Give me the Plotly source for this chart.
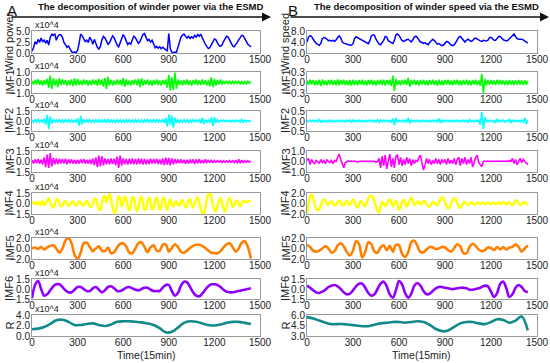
import numpy as np
import plotly.graph_objects as go

# ---------------- data (values in plotted units; left panel in x10^4) ----------------
L_power = [0.4,1.2,2.6,2.0,3.1,2.4,3.4,2.5,3.0,2.2,
           2.9,1.8,3.6,4.3,4.0,4.4,2.9,3.8,4.2,4.1,
           3.6,2.4,1.9,1.3,1.6,0.8,0.3,0.1,0.2,0.1,
           0.6,2.2,4.3,3.9,3.1,2.6,2.9,2.4,3.6,3.0,
           2.0,3.1,2.2,1.3,0.9,1.5,3.0,3.8,3.4,2.6,
           2.0,2.3,3.1,3.9,3.5,2.5,1.8,1.4,2.4,3.7,
           4.2,3.6,2.6,1.9,2.3,2.0,3.0,3.8,3.5,2.7,
           2.2,2.6,3.3,4.2,4.4,3.6,2.8,3.1,2.5,2.9,
           1.8,1.2,1.5,1.1,1.4,1.0,1.3,0.9,0.7,0.5,
           4.4,1.0,0.2,0.1,0.2,0.1,1.2,2.8,3.6,4.1,
           4.3,3.8,3.4,3.8,3.3,3.7,3.4,4.0,3.6,4.2,
           3.8,4.3,3.4,2.6,2.0,1.5,1.0,1.2,1.8,2.6,
           3.2,3.0,2.4,1.7,1.5,1.8,2.6,3.3,3.8,3.6,
           2.8,2.1,1.6,1.4,1.8,2.4,3.0,3.6,4.0,3.9,
           3.2,2.4,2.0,1.7,1.4]
L_imf1 = [0.15,-0.2,0.25,-0.18,0.3,-0.22,0.2,-0.3,0.25,-0.2,
          0.35,-0.5,0.65,-0.6,0.4,-0.3,0.3,-0.45,0.42,-0.25,
          0.3,-0.2,0.25,-0.3,0.2,-0.25,0.3,-0.35,0.4,-0.3,
          0.35,-0.25,0.2,-0.25,0.3,-0.2,0.25,-0.3,0.2,-0.25,
          0.3,-0.2,0.25,-0.3,0.35,-0.25,0.3,-0.4,0.45,-0.6,
          0.55,-0.3,0.25,-0.3,0.2,-0.25,0.3,-0.2,0.25,-0.3,
          0.45,-0.4,0.3,-0.25,0.2,-0.3,0.25,-0.2,0.3,-0.25,
          0.35,-0.45,0.4,-0.3,0.25,-0.2,0.3,-0.25,0.2,-0.3,
          0.25,-0.2,0.3,-0.25,0.2,-0.3,0.25,-0.2,0.3,-0.5,
          0.7,-0.75,0.5,-0.7,0.95,-0.6,0.3,-0.25,0.2,-0.3,
          0.25,-0.2,0.3,-0.25,0.2,-0.3,0.25,-0.2,0.3,-0.25,
          0.2,-0.25,0.3,-0.2,0.25,-0.3,0.2,-0.35,0.5,-0.45,
          0.35,-0.3,0.25,-0.2,0.3,-0.2,0.15,-0.12,0.15,-0.1,
          0.12,-0.15,0.1,-0.12,0.15,-0.1,0.12,-0.14,0.1,-0.12,
          0.1,-0.12,0.1,-0.08,0.1]
L_imf2 = [0.15,-0.18,0.2,-0.15,0.22,-0.18,0.2,-0.25,0.35,-0.5,
          0.9,-1.2,0.7,-0.4,0.25,-0.2,0.18,-0.15,0.2,-0.18,
          0.15,-0.2,0.18,-0.15,0.2,-0.18,0.15,-0.2,0.18,-0.25,
          0.4,-0.7,0.75,-0.5,0.25,-0.2,0.18,-0.15,0.2,-0.18,
          0.15,-0.2,0.18,-0.15,0.2,-0.18,0.15,-0.2,0.25,-0.3,
          0.3,-0.25,0.2,-0.18,0.15,-0.2,0.18,-0.15,0.2,-0.18,
          0.15,-0.2,0.18,-0.15,0.2,-0.18,0.15,-0.2,0.18,-0.15,
          0.2,-0.18,0.15,-0.2,0.18,-0.15,0.2,-0.18,0.15,-0.2,
          0.18,-0.15,0.2,-0.18,0.15,-0.2,0.25,-0.3,0.45,-0.8,
          0.95,-0.6,0.8,-1.0,0.5,-0.3,0.2,-0.18,0.15,-0.2,
          0.18,-0.15,0.2,-0.18,0.15,-0.2,0.18,-0.15,0.2,-0.18,
          0.25,-0.35,0.5,-0.45,0.2,-0.18,0.15,-0.3,0.55,-0.75,
          0.6,-0.3,0.18,-0.15,0.12,-0.1,0.12,-0.1,0.12,-0.1,
          0.1,-0.12,0.1,-0.12,0.15,-0.1,0.12,-0.25,0.3,-0.2,
          0.12,-0.1,0.08,-0.1,0.08]
L_imf3 = [0.2,-0.3,0.3,-0.25,0.35,-0.3,0.25,-0.4,0.6,-0.8,
          1.0,-0.9,1.2,-0.7,0.5,-0.4,0.45,-0.35,0.4,-0.3,
          0.35,-0.3,0.4,-0.35,0.3,-0.25,0.3,-0.3,0.25,-0.3,
          0.25,-0.3,0.3,-0.25,0.35,-0.3,0.25,-0.3,0.3,-0.35,
          0.4,-0.5,0.6,-0.8,0.85,-0.7,0.75,-0.55,0.45,-0.4,
          0.35,-0.4,0.45,-0.35,0.4,-0.5,0.7,-0.9,0.85,-0.6,
          0.45,-0.4,0.35,-0.45,0.4,-0.35,0.45,-0.4,0.35,-0.4,
          0.45,-0.35,0.4,-0.45,0.35,-0.4,0.3,-0.35,0.4,-0.3,
          0.35,-0.3,0.4,-0.35,0.3,-0.4,0.45,-0.5,0.55,-0.45,
          0.5,-0.55,0.45,-0.4,0.35,-0.3,0.3,-0.25,0.3,-0.25,
          0.25,-0.3,0.25,-0.3,0.3,-0.25,0.3,-0.35,0.3,-0.25,
          0.3,-0.25,0.2,-0.25,0.3,-0.2,0.25,-0.2,0.25,-0.2,
          0.15,-0.12,0.15,-0.1,0.12,-0.15,0.1,-0.12,0.1,-0.12,
          0.15,-0.1,0.12,-0.15,0.2,-0.25,0.3,-0.25,0.2,-0.15,
          0.12,-0.1,0.12,-0.1,0.08]
L_imf4 = [0.0,0.15,-0.1,0.2,-0.15,0.25,-0.2,0.3,-0.25,0.1,
          0.4,0.75,0.3,-0.4,-0.6,-0.1,0.5,0.6,0.0,-0.4,
          -0.3,0.2,0.4,0.0,-0.3,-0.2,0.2,0.3,-0.1,-0.3,
          0.0,0.3,0.2,-0.2,-0.3,0.1,0.4,0.1,-0.4,-0.5,
          0.0,0.6,0.7,-0.1,-0.8,-0.9,0.0,0.9,1.1,0.1,
          0.8,1.4,0.6,-0.6,-1.3,-1.2,0.0,1.0,0.8,-0.4,
          0.0,1.0,0.7,-0.5,-1.0,-0.2,0.9,0.8,-0.3,-1.1,
          -0.6,0.6,1.0,0.2,-0.9,-0.8,0.4,0.9,0.1,-0.8,
          -0.7,0.5,0.9,0.0,-0.9,-0.5,0.7,0.8,-0.3,-0.9,
          0.2,0.6,-0.2,-0.4,0.2,0.3,-0.2,-0.3,0.2,0.5,
          0.0,-0.6,-0.3,0.5,0.6,-0.2,-0.6,0.0,0.6,0.9,
          0.2,-0.8,-1.3,-1.5,-0.6,0.6,1.3,1.5,0.9,-0.2,
          -0.9,-1.1,-0.4,0.4,0.8,0.2,-0.7,-1.2,-0.5,0.5,
          0.8,0.2,-0.5,-0.3,0.3,0.4,-0.1,-0.4,0.0,0.4,
          0.3,0.2,0.3,0.35,0.3]
L_imf5 = [0.0,0.2,-0.1,0.3,-0.2,0.2,0.5,0.6,0.0,-0.8,
          0.0,1.5,2.0,1.0,-1.2,-2.0,-0.8,1.0,1.1,0.3,
          -0.5,0.0,0.4,-0.4,-0.5,0.2,-0.9,-0.7,0.2,0.9,
          1.0,0.4,-0.8,-0.9,0.0,1.0,1.2,0.3,-0.7,0.2,
          0.6,-0.4,-0.4,0.7,0.8,-0.6,0.1,0.8,0.3,-0.6,
          -0.8,-0.4,0.1,0.5,0.7,0.7,0.5,0.1,-0.4,-0.8,
          -0.9,-0.9,-0.5,0.2,0.8,1.0,0.3,-0.6,0.0,1.1,
          1.4,0.3,-1.9]
L_imf6 = [-1.4,0.6,1.2,0.0,-1.0,-0.8,-0.2,0.4,0.7,0.7,
          0.3,-0.2,-0.5,-0.5,-0.1,0.3,0.3,0.0,-0.3,-0.3,
          0.1,0.3,-0.1,-0.5,-0.2,0.3,0.4,0.1,-0.3,-0.3,
          -0.1,0.2,0.3,0.1,-0.1,-0.2,0.0,0.2,0.2,-0.1,
          -0.3,-0.3,-0.3,0.2,0.6,0.6,-0.3,-1.0,-0.6,0.5,
          1.1,1.0,0.3,-0.5,-1.0,-1.1,-0.7,-0.1,0.4,0.7,
          0.7,0.6,0.3,-0.1,-0.4,-0.5,-0.5,-0.4,-0.3,-0.2,
          -0.1,0.0,0.1]
L_res = [1.3,1.4,1.7,2.3,3.0,3.1,2.7,2.1,2.1,2.3,2.4,2.1,1.9,2.2,2.7,2.8,2.8,2.7,2.6,
         2.4,2.1,1.5,0.7,0.8,1.6,2.5,2.8,2.7,2.4,2.1,2.0,2.2,2.5,2.7,2.7,2.5,2.3]

R_speed = [4.0,5.8,6.3,6.0,5.0,4.0,3.5,3.1,2.8,3.5,
           5.2,5.6,5.5,5.0,4.5,4.6,4.4,4.6,4.2,4.8,
           5.8,6.3,5.5,4.0,3.6,3.3,3.2,3.0,2.9,2.8,
           3.4,5.2,5.9,5.6,5.0,4.8,4.4,4.3,4.1,3.6,
           3.4,4.5,6.3,6.6,6.4,5.0,4.0,3.2,3.0,3.6,
           4.6,6.0,5.8,4.5,4.0,3.8,3.5,4.6,6.6,6.9,
           6.4,5.5,4.5,4.2,4.6,4.8,5.0,4.4,4.0,4.8,
           5.8,6.1,5.6,4.7,4.0,3.8,3.5,3.7,3.3,3.0,
           3.8,4.6,5.0,4.5,3.6,3.2,3.4,3.0,2.7,2.9,
           3.8,4.2,4.0,3.4,2.9,2.7,3.0,3.8,5.0,5.8,
           6.0,5.2,4.4,4.0,4.6,5.0,4.6,4.2,4.5,5.2,
           5.4,5.0,4.6,4.4,4.2,4.6,4.5,4.4,4.7,5.6,
           5.7,5.2,4.6,4.6,5.3,6.0,6.0,5.4,4.8,4.6,
           4.4,4.6,5.2,6.0,6.6,6.9,6.0,5.2,5.0,5.1,
           5.0,4.8,4.4,4.0,3.6]
R_imf1 = [0.06,-0.07,0.08,-0.06,0.07,-0.08,0.06,-0.07,0.08,-0.1,
          0.09,-0.07,0.06,-0.08,0.07,-0.06,0.08,-0.07,0.06,-0.08,
          0.09,-0.08,0.07,-0.06,0.08,-0.07,0.06,-0.08,0.07,-0.09,
          0.08,-0.07,0.06,-0.08,0.07,-0.06,0.08,-0.07,0.06,-0.08,
          0.07,-0.06,0.08,-0.07,0.06,-0.08,0.07,-0.06,0.08,-0.07,
          0.08,-0.09,0.07,-0.06,0.08,-0.1,0.2,-0.25,0.1,-0.07,
          0.06,-0.08,0.07,-0.06,0.08,-0.07,0.13,-0.12,0.07,-0.06,
          0.08,-0.07,0.06,-0.08,0.07,-0.06,0.08,-0.07,0.06,-0.08,
          0.07,-0.06,0.08,-0.07,0.06,-0.09,0.08,-0.07,0.06,-0.08,
          0.07,-0.06,0.08,-0.07,0.06,-0.08,0.07,-0.06,0.08,-0.07,
          0.06,-0.08,0.07,-0.06,0.08,-0.07,0.06,-0.08,0.07,-0.06,
          0.08,-0.07,0.06,-0.1,0.25,-0.3,0.1,-0.08,0.07,-0.06,
          0.07,-0.06,0.06,-0.07,0.08,-0.06,0.07,-0.06,0.06,-0.07,
          0.06,-0.07,0.07,-0.06,0.06,-0.07,0.06,-0.06,0.07,-0.06,
          0.06,-0.07,0.06,-0.06,0.05]
R_imf2 = [0.03,-0.04,0.04,-0.03,0.04,-0.04,0.03,-0.05,0.1,-0.08,
          0.04,-0.04,0.03,-0.04,0.04,-0.03,0.04,-0.04,0.03,-0.04,
          0.04,-0.03,0.04,-0.04,0.03,-0.04,0.04,-0.03,0.06,-0.08,
          0.05,-0.04,0.03,-0.04,0.04,-0.03,0.04,-0.04,0.03,-0.04,
          0.04,-0.03,0.04,-0.04,0.03,-0.04,0.06,-0.07,0.05,-0.04,
          0.04,-0.03,0.04,-0.04,0.03,-0.05,0.12,-0.2,0.15,-0.06,
          0.04,-0.03,0.04,-0.04,0.03,-0.05,0.15,-0.12,0.05,-0.04,
          0.04,-0.03,0.04,-0.04,0.03,-0.04,0.04,-0.03,0.04,-0.04,
          0.03,-0.04,0.04,-0.03,0.04,-0.05,0.12,-0.1,0.04,-0.04,
          0.04,-0.03,0.04,-0.04,0.03,-0.04,0.04,-0.03,0.04,-0.04,
          0.03,-0.04,0.04,-0.03,0.04,-0.08,0.07,-0.04,0.03,-0.04,
          0.04,-0.03,0.05,-0.2,0.45,-0.4,0.2,-0.06,0.04,-0.03,
          0.04,-0.04,0.03,-0.1,0.1,-0.04,0.04,-0.03,0.04,-0.04,
          0.03,-0.04,0.1,-0.1,0.04,-0.03,0.04,-0.04,0.03,-0.04,
          0.04,-0.05,0.15,-0.15,0.05]
R_imf3 = [0.1,0.3,-0.3,0.2,-0.1,-0.2,0.1,0.0,-0.2,0.2,
          -0.1,0.1,-0.2,0.15,0.0,-0.1,0.1,-0.2,0.1,0.0,
          0.4,0.7,0.2,-0.3,-0.6,-0.1,0.0,0.05,0.0,0.05,
          0.0,0.05,0.0,-0.05,0.0,0.05,0.0,0.05,0.0,0.05,
          0.0,0.05,0.0,0.05,0.0,-0.05,0.0,0.3,-0.6,0.5,
          -0.4,0.6,-0.7,0.2,0.7,-0.5,0.3,-0.6,0.5,0.6,
          -0.3,0.4,-0.4,0.2,-0.3,0.4,-0.2,0.3,-0.4,0.2,
          -0.2,0.1,0.0,0.4,0.6,-0.2,-0.8,-0.3,0.3,-0.2,
          0.2,-0.3,0.1,-0.2,0.3,-0.2,0.2,-0.3,0.2,-0.1,
          0.2,-0.3,0.3,-0.2,0.1,-0.2,0.3,-0.3,0.2,0.4,
          -0.4,0.3,-0.2,0.4,-0.3,0.2,-0.2,0.4,-0.5,-0.1,
          0.4,0.6,-0.1,-0.3,-0.5,0.0,0.05,0.0,0.05,0.0,
          0.05,0.0,0.05,0.0,0.05,0.0,0.05,0.0,0.05,0.0,
          0.05,0.0,0.1,0.0,0.3,-0.2,0.2,-0.3,0.1,0.3,
          -0.1,0.2,0.0,-0.2,-0.3]
R_imf4 = [-2.0,0.0,1.4,1.7,1.0,-0.2,-1.0,-1.3,-1.1,-0.4,
          0.4,0.8,0.5,-0.1,-0.2,0.2,0.4,0.0,-0.4,-0.2,
          0.3,0.6,0.2,-0.4,-0.3,0.3,0.5,0.0,-0.3,0.2,
          0.8,0.4,-0.5,-0.8,-0.2,0.5,0.3,-0.3,-0.5,0.2,
          1.0,1.5,1.4,1.2,0.4,-0.6,-1.4,-1.7,-0.6,0.3,
          0.1,-0.5,-0.2,0.5,0.8,0.3,-0.5,0.0,0.6,-0.2,
          -1.2,-0.8,0.3,0.7,0.1,-0.6,-0.2,0.7,1.1,0.5,
          -0.3,-0.1,0.4,0.3,-0.2,0.0,0.5,0.4,-0.2,-0.5,
          -0.6,-0.2,0.3,0.2,-0.2,-0.3,0.2,0.8,1.2,1.0,
          0.2,-0.6,-1.0,-0.7,0.0,0.6,1.0,0.8,0.1,-0.6,
          -0.8,-0.4,0.1,0.3,0.0,-0.3,-0.1,0.2,0.1,-0.2,
          -0.1,0.2,0.1,-0.1,0.1,0.2,-0.1,0.0,0.2,0.0,
          -0.1,0.1,0.2,-0.1,0.0,0.2,-0.1,0.1,0.3,0.0,
          -0.2,0.1,0.2,-0.1,-0.3,0.1,0.5,0.6,0.1,-0.3,
          -0.2,0.2,0.3,-0.1,-0.2]
R_imf5 = [0.7,0.3,-0.4,-0.6,-0.4,0.0,0.4,0.0,-0.8,-0.5,
          0.6,1.0,0.4,-0.7,-1.3,-0.4,1.4,0.8,-1.7,-0.6,
          1.2,0.8,-0.6,-0.8,0.2,0.6,-0.3,0.5,-0.6,0.7,
          0.6,-1.0,-1.6,-0.7,1.2,1.5,0.5,-0.7,-0.7,-0.2,
          0.3,0.2,-0.1,0.0,0.3,0.2,-0.3,-0.6,0.1,0.8,
          0.4,-0.9,-0.9,0.3,0.9,0.5,-0.2,-0.5,-0.3,0.2,
          0.1,-0.3,0.3,-0.2,0.3,-0.2,0.2,0.3,0.8,0.3,
          -0.6,0.0,0.6]
R_imf6 = [0.5,0.2,-0.2,-0.5,-0.6,-0.4,-0.1,0.3,0.5,0.6,
          0.4,0.0,-0.5,-0.8,-0.7,-0.2,0.4,0.8,0.8,0.2,
          -0.6,-1.0,-0.8,0.0,0.8,1.1,0.4,-0.8,-1.3,-0.2,
          1.2,0.7,-0.6,-1.3,-0.7,0.5,0.9,0.5,-0.3,-0.8,
          -0.7,-0.3,0.1,0.3,0.3,0.2,0.1,0.0,0.0,0.1,
          0.2,0.2,0.1,-0.1,-0.1,0.0,0.1,0.3,0.5,0.4,
          -0.4,-1.2,-0.6,0.8,1.1,0.1,-1.2,-0.8,0.2,0.6,
          0.3,-0.3,-0.5]
R_res = [5.7,5.5,5.2,4.9,4.7,4.7,4.7,4.6,4.5,4.4,4.4,4.6,4.8,4.9,5.0,5.0,4.9,5.0,5.1,
         5.0,4.6,4.0,3.7,3.8,4.3,4.8,5.0,5.0,4.8,4.7,5.0,5.4,5.3,4.9,5.2,5.8,3.8]

row_names_L = ["Wind power", "IMF1", "IMF2", "IMF3", "IMF4", "IMF5", "IMF6", "R"]
row_names_R = ["Wind speed", "IMF1", "IMF2", "IMF3", "IMF4", "IMF5", "IMF6", "R"]
xticks = [0, 300, 600, 900, 1200, 1500]
yticks_L = [[0, 2.5, 5], [-1, 0, 1], [-1.5, 0, 1.5], [-1.5, 0, 1.5], [-1.5, 0, 1.5], [-2, 0, 2], [-1.5, 0, 1.5], [0, 2, 4]]
yticks_R = [[0, 4, 8], [-0.3, 0, 0.3], [-0.5, 0, 0.5], [-1, 0, 1], [-2, 0, 2], [-2, 0, 2], [-1.5, 0, 1.5], [3, 4.5, 6]]
title_L = "The decomposition of winder power via the ESMD"
title_R = "The decomposition of winder speed via the ESMD"
xlabel = "Time(15min)"
scale_label = "x10^4"

# ---------------- styling ----------------
W, H = 550, 363
series_L = [(L_power, 10), (L_imf1, 10), (L_imf2, 10), (L_imf3, 10), (L_imf4, 10), (L_imf5, 20), (L_imf6, 20), (L_res, 40)]
series_R = [(R_speed, 10), (R_imf1, 10), (R_imf2, 10), (R_imf3, 10), (R_imf4, 10), (R_imf5, 20), (R_imf6, 20), (R_res, 40)]
colors = ["#0000ff", "#00ff00", "#00ffff", "#ff00ff", "#ffff00", "#ff7f00", "#8f00ff", "#138a8a"]
widths = [1.5, 1.6, 1.6, 1.6, 2.4, 2.6, 2.6, 2.6]
smooth = [False, False, False, False, True, True, True, True]
rows_px = [(31, 53), (72, 93), (111, 131), (151, 172), (193, 214), (238, 259), (279, 299), (315, 336)]
cols_px = [(32, 260), (307, 537)]
FONT = "Arial, Liberation Sans, sans-serif"

fig = go.Figure()
layout = {}
annotations = []
for p, (series, yticks, names) in enumerate([(series_L, yticks_L, row_names_L), (series_R, yticks_R, row_names_R)]):
    x0, x1 = cols_px[p]
    for r in range(8):
        idx = p * 8 + r + 1
        vals, step = series[r]
        xs = np.arange(len(vals)) * step
        fig.add_trace(go.Scatter(
            x=xs, y=vals, mode="lines",
            line=dict(color=colors[r], width=widths[r], shape="spline" if smooth[r] else "linear", smoothing=1.0),
            xaxis=f"x{idx}", yaxis=f"y{idx}", showlegend=False, hoverinfo="skip"))
        t, b = rows_px[r]
        xa = dict(domain=[x0 / W, x1 / W], range=[0, 1500], anchor=f"y{idx}", automargin=False,
                  tickvals=xticks, ticks="", showgrid=False, zeroline=False,
                  showline=True, mirror=True, linecolor="#9a9a9a", linewidth=1,
                  tickfont=dict(size=10, family=FONT, color="#222"), ticklabelstandoff=-3)
        ya = dict(domain=[1 - b / H, 1 - t / H], range=[yticks[r][0], yticks[r][-1]], anchor=f"x{idx}",
                  automargin=False,
                  tickvals=yticks[r], tickformat=".1f", ticks="", showgrid=False, zeroline=False,
                  showline=True, mirror=True, linecolor="#9a9a9a", linewidth=1,
                  tickfont=dict(size=10, family=FONT, color="#222"), ticklabelstandoff=-1)
        layout[f"xaxis{idx}"] = xa
        layout[f"yaxis{idx}"] = ya
        # row name
        annotations.append(dict(text=names[r], x=(9 if p == 0 else 285) / W, y=1 - (t + b) / 2 / H,
                                xref="paper", yref="paper", showarrow=False, textangle=-90,
                                font=dict(size=11, family=FONT, color="#222"), xanchor="center", yanchor="middle"))
        if p == 0:
            annotations.append(dict(text=scale_label, x=33 / W, y=1 - (t + 1) / H, xref="paper", yref="paper",
                                    showarrow=False, xanchor="left", yanchor="bottom",
                                    font=dict(size=9, family=FONT, color="#222")))
    # x label
    annotations.append(dict(text=xlabel, x=(x0 + x1) / 2 / W, y=1 - 355 / H, xref="paper", yref="paper",
                            showarrow=False, xanchor="center", yanchor="middle",
                            font=dict(size=10.5, family=FONT, color="#222")))

# Panel headers
for letter, lx, title, tx, ax0, ax1 in [("A", 12, title_L, 151, 10, 271), ("B", 293, title_R, 426, 289, 549)]:
    annotations.append(dict(text=letter, x=lx / W, y=1 - 11 / H, xref="paper", yref="paper", showarrow=False,
                            xanchor="center", yanchor="middle", font=dict(size=15, family=FONT, color="#111")))
    annotations.append(dict(text="<b>" + title + "</b>", x=tx / W, y=1 - 7 / H, xref="paper", yref="paper",
                            showarrow=False, xanchor="center", yanchor="middle",
                            font=dict(size=9.5, family=FONT, color="#111")))
    annotations.append(dict(text="", x=ax1 / W, y=1 - 17 / H, xref="paper", yref="paper", showarrow=True,
                            ax=-(ax1 - ax0), ay=0, arrowhead=2, arrowsize=1.2, arrowwidth=1.5, arrowcolor="#111"))

fig.update_layout(width=W, height=H, margin=dict(l=0, r=0, t=0, b=0, autoexpand=False),
                  paper_bgcolor="white", plot_bgcolor="white", annotations=annotations, **layout)
fig.write_html("out.html", config={"displayModeBar": False},
               post_script="document.body.style.margin='0';document.body.style.overflow='hidden';")
